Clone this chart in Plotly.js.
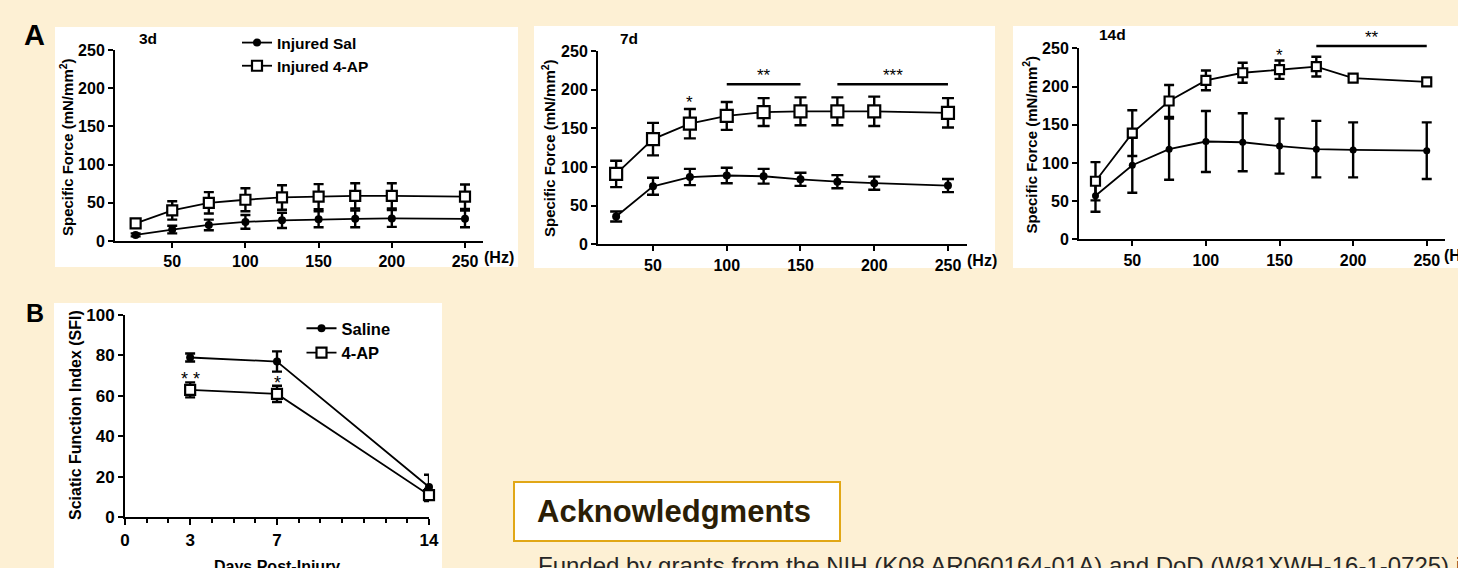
<!DOCTYPE html>
<html>
<head>
<meta charset="utf-8">
<script src="https://cdn.plot.ly/plotly-3.0.1.min.js"></script>
<style>html,body{margin:0;padding:0;background:#FDF0D4;}#chart{width:1458px;height:568px;}</style>
</head>
<body>
<div id="chart"></div>
<script>
// ---------- DATA ----------
const freqHz = [25, 50, 75, 100, 125, 150, 175, 200, 250];
const freqTicks = [50, 100, 150, 200, 250];
const forceTicks = [0, 50, 100, 150, 200, 250];

const d3Saline    = [8, 15, 21, 25, 27, 28.5, 29, 29.5, 29];
const d3SalineErr = [2, 5, 7, 9, 10, 10.5, 11, 11, 11];
const d3AP        = [23, 40, 50, 54, 57, 58, 59, 59, 58];
const d3APErr     = [4, 12, 14, 15, 16, 16.5, 16.5, 16.5, 16];

const d7Saline    = [36, 75, 87, 89, 88, 84, 81, 79, 76];
const d7SalineErr = [6.5, 11, 10.5, 10, 9.5, 8.5, 8.5, 8.5, 8.5];
const d7AP        = [91, 136, 156, 166, 171, 172, 172, 172, 170];
const d7APErr     = [17, 21, 19, 18, 18, 18, 18, 19, 19];

const d14Saline    = [57, 97, 118, 128, 127, 122, 118, 117, 116];
const d14SalineErr = [21, 36, 40, 40, 38, 36, 37, 36, 37];
const d14AP        = [76, 139, 181, 208, 218, 222, 226, 211, 206];
const d14APErr     = [25, 30, 21, 13, 13, 12, 13, 3, 5];

const sfiDays      = [3, 7, 14];
const sfiDayTicks  = [0, 3, 7, 14];
const sfiTicks     = [0, 20, 40, 60, 80, 100];
const sfiSaline    = [79, 77, 15];
const sfiSalineErr = [2, 5, 6];
const sfiAP        = [63, 61, 11];
const sfiAPErr     = [3.7, 4, 3];

// significance marks: [xref, yref, x, y, text]
const sigStars = [
  ['x2', 'y2', 75, 189, '*'],
  ['x2', 'y2', 125, 224, '**'],
  ['x2', 'y2', 212.5, 224, '***'],
  ['x3', 'y3', 150, 245.5, '*'],
  ['x3', 'y3 domain', 212.5, 269.6 / 250, '**'],
  ['x4', 'y4', 3, 70.3, '* *'],
  ['x4', 'y4', 7, 68.4, '*']
];
// significance bars: [xref, yref, x0, x1, y]
const sigBars = [
  ['x2', 'y2', 100, 150, 207],
  ['x2', 'y2', 175, 250, 207],
  ['x3', 'y3 domain', 175, 250, 253 / 250]
];

// ---------- STYLE HELPERS ----------
const FONT = "Arial, 'Liberation Sans', sans-serif";
const W = 1458, H = 568;
const px = v => v / W;
const py = v => 1 - v / H;

function trace(x, y, err, xa, ya, kind, size, cap, name, legend, showlegend) {
  const t = {
    x: x, y: y, xaxis: xa, yaxis: ya, type: 'scatter', mode: 'lines+markers',
    name: name, legend: legend, showlegend: showlegend, cliponaxis: false,
    line: {color: 'black', width: 1.8},
    error_y: {type: 'data', array: err, visible: true, color: 'black', thickness: 2.4, width: cap}
  };
  if (kind === 'sal') {
    t.marker = {symbol: 'circle', size: size, color: 'black'};
  } else {
    t.marker = {symbol: 'square', size: size, color: 'white', line: {color: 'black', width: 2.2}};
  }
  return t;
}

const data = [
  trace(freqHz, d3Saline, d3SalineErr, 'x', 'y', 'sal', 8, 5, 'Injured Sal', 'legend', true),
  trace(freqHz, d3AP, d3APErr, 'x', 'y', 'ap', 10, 5, 'Injured 4-AP', 'legend', true),
  trace(freqHz, d7Saline, d7SalineErr, 'x2', 'y2', 'sal', 8, 6, 'Injured Sal', 'legend', false),
  trace(freqHz, d7AP, d7APErr, 'x2', 'y2', 'ap', 12, 6, 'Injured 4-AP', 'legend', false),
  trace(freqHz, d14Saline, d14SalineErr, 'x3', 'y3', 'sal', 7, 5, 'Injured Sal', 'legend', false),
  trace(freqHz, d14AP, d14APErr, 'x3', 'y3', 'ap', 9, 5, 'Injured 4-AP', 'legend', false),
  trace(sfiDays, sfiSaline, sfiSalineErr, 'x4', 'y4', 'sal', 8, 5, 'Saline', 'legend2', true),
  trace(sfiDays, sfiAP, sfiAPErr, 'x4', 'y4', 'ap', 10, 5, '4-AP', 'legend2', true)
];

function axis(extra) {
  return Object.assign({
    showline: true, linecolor: 'black', linewidth: 2,
    ticks: 'outside', ticklen: 5, tickwidth: 2, tickcolor: 'black',
    showgrid: false, zeroline: false, fixedrange: true,
    tickfont: {family: FONT, size: 16, color: 'black', weight: 'bold'}
  }, extra);
}

const layout = {
  width: W, height: H,
  margin: {l: 0, r: 0, t: 0, b: 0},
  paper_bgcolor: '#FDF0D4',
  plot_bgcolor: 'rgba(0,0,0,0)',
  font: {family: FONT, color: 'black'},
  xaxis:  axis({domain: [px(115), px(483)], range: [10.9, 262.3], anchor: 'y', tickvals: freqTicks}),
  yaxis:  axis({domain: [py(241), py(50)], range: [0, 250], anchor: 'x', tickvals: forceTicks}),
  xaxis2: axis({domain: [px(598), px(967)], range: [12.7, 262.9], anchor: 'y2', tickvals: freqTicks}),
  yaxis2: axis({domain: [py(244.3), py(51)], range: [0, 250], anchor: 'x2', tickvals: forceTicks}),
  xaxis3: axis({domain: [px(1079), px(1445)], range: [13.8, 262.4], anchor: 'y3', tickvals: freqTicks}),
  yaxis3: axis({domain: [py(239.3), py(48.3)], range: [0, 250], anchor: 'x3', tickvals: forceTicks}),
  xaxis4: axis({domain: [px(125), px(429)], range: [0, 14], anchor: 'y4', tickvals: sfiDayTicks, ticklen: 6,
                minor: {ticks: 'outside', dtick: 1, tick0: 0, ticklen: 4, tickwidth: 2, tickcolor: 'black'},
                tickfont: {family: FONT, size: 17, color: 'black', weight: 'bold'}}),
  yaxis4: axis({domain: [py(517.3), py(315)], range: [0, 100], anchor: 'x4', tickvals: sfiTicks,
                tickfont: {family: FONT, size: 17, color: 'black', weight: 'bold'}}),
  legend: {x: px(237), y: py(26), xanchor: 'left', yanchor: 'top', bgcolor: 'rgba(0,0,0,0)',
           borderwidth: 0, itemwidth: 30, font: {family: FONT, size: 15.5, color: 'black', weight: 'bold'}},
  legend2: {x: px(301.5), y: py(311), xanchor: 'left', yanchor: 'top', bgcolor: 'rgba(0,0,0,0)',
            borderwidth: 0, itemwidth: 30, font: {family: FONT, size: 16.5, color: 'black', weight: 'bold'}},
  shapes: [],
  annotations: []
};

// white panel backgrounds
[[55, 27, 518, 267], [534, 26, 995, 268], [1013, 26, 1470, 268], [54, 303, 442, 580]].forEach(r => {
  layout.shapes.push({type: 'rect', xref: 'paper', yref: 'paper', layer: 'below',
    x0: px(r[0]), x1: px(r[2]), y0: py(r[3]), y1: py(r[1]), fillcolor: 'white', line: {width: 0}});
});
// acknowledgments box
layout.shapes.push({type: 'rect', xref: 'paper', yref: 'paper', layer: 'below',
  x0: px(514), x1: px(840), y0: py(541), y1: py(482), fillcolor: 'white', line: {color: '#E1A716', width: 2}});

// significance bars
sigBars.forEach(b => {
  layout.shapes.push({type: 'line', xref: b[0], yref: b[1], x0: b[2], x1: b[3], y0: b[4], y1: b[4],
    line: {color: 'black', width: 2.5}});
});
// significance stars
sigStars.forEach(s => {
  const isB = s[0] === 'x4';
  layout.annotations.push({xref: s[0], yref: s[1], x: s[2], y: s[3], text: s[4],
    showarrow: false, xanchor: 'center', yanchor: 'middle', yshift: -4,
    font: {family: FONT, size: isB ? 18 : 17, color: 'black'}});
});

function txt(text, x, y, size, opts) {
  layout.annotations.push(Object.assign({xref: 'paper', yref: 'paper', x: px(x), y: py(y), text: text,
    showarrow: false, xanchor: 'left', yanchor: 'middle',
    font: {family: FONT, size: size, color: 'black', weight: 'bold'}}, opts || {}));
}
// panel letters
txt('A', 22, 35, 29);
txt('B', 24, 313, 25);
// panel titles
txt('3d', 137, 38, 15.5);
txt('7d', 618, 38, 15.5);
txt('14d', 1097, 35, 15.5);
// (Hz) unit labels
txt('(Hz)', 482, 257.5, 16);
txt('(Hz)', 965, 260, 16);
txt('(Hz)', 1442, 255, 16);
// y titles
const yTitleA = 'Specific Force (mN/mm<sup>2</sup>)';
txt(yTitleA, 66, 147, 15, {textangle: -90, xanchor: 'center'});
txt(yTitleA, 548, 148, 15, {textangle: -90, xanchor: 'center'});
txt(yTitleA, 1030, 144.5, 15, {textangle: -90, xanchor: 'center'});
txt('Sciatic Function Index (SFI)', 75, 415, 16, {textangle: -90, xanchor: 'center'});
// x title B
txt('Days Post-Injury', 277, 566, 16, {xanchor: 'center'});
// acknowledgments
txt('Acknowledgments', 535, 511, 31, {font: {family: FONT, size: 31, color: '#2B1E06', weight: 'bold'}});
txt('Funded by grants from the NIH (K08 AR060164-01A) and DoD (W81XWH-16-1-0725) in', 536, 565.4, 24,
    {font: {family: FONT, size: 24, color: '#262626', weight: 'normal'}});

Plotly.newPlot('chart', data, layout, {displayModeBar: false, staticPlot: true});
</script>
</body>
</html>
